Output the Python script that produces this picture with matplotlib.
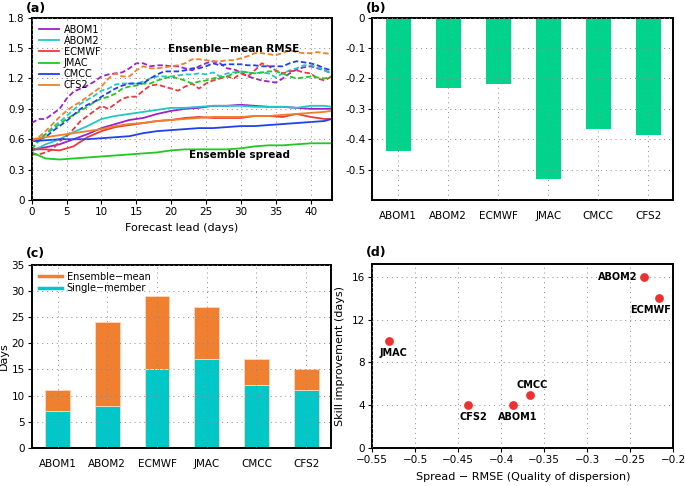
import numpy as np
import matplotlib
matplotlib.use("Agg")
import matplotlib.pyplot as plt

plt.rcParams['font.family'] = ['DejaVu Sans']
plt.rcParams['font.size'] = 7.5

models = ["ABOM1", "ABOM2", "ECMWF", "JMAC", "CMCC", "CFS2"]
colors = ["#a020c8", "#20c8c8", "#f03838", "#20c820", "#2040f0", "#f08028"]

# (a) ensemble-mean RMSE (dashed), daily lead 0..43
lead = list(range(44))
rmse_abom1 = [0.76, 0.80, 0.80, 0.85, 0.90, 1.00, 1.07, 1.10, 1.13, 1.17, 1.22, 1.24, 1.25, 1.26, 1.30, 1.35,
              1.35, 1.32, 1.33, 1.33, 1.32, 1.32, 1.30, 1.28, 1.32, 1.35, 1.37, 1.35, 1.30, 1.29, 1.26, 1.22,
              1.20, 1.18, 1.17, 1.16, 1.20, 1.25, 1.29, 1.31, 1.32, 1.30, 1.28, 1.25]
rmse_abom2 = [0.50, 0.58, 0.65, 0.72, 0.77, 0.83, 0.89, 0.95, 0.99, 1.03, 1.08, 1.10, 1.14, 1.15, 1.15, 1.15,
              1.17, 1.20, 1.22, 1.22, 1.22, 1.23, 1.24, 1.24, 1.25, 1.24, 1.26, 1.22, 1.25, 1.26, 1.27, 1.26,
              1.25, 1.26, 1.25, 1.21, 1.25, 1.28, 1.30, 1.33, 1.33, 1.31, 1.28, 1.25]
rmse_ecmwf = [0.45, 0.45, 0.47, 0.50, 0.58, 0.63, 0.70, 0.78, 0.83, 0.88, 0.93, 0.90, 0.95, 1.00, 1.02, 1.02,
              1.08, 1.13, 1.14, 1.12, 1.10, 1.08, 1.12, 1.15, 1.10, 1.15, 1.18, 1.20, 1.22, 1.20, 1.25, 1.22,
              1.28, 1.35, 1.32, 1.28, 1.25, 1.27, 1.28, 1.26, 1.25, 1.20, 1.18, 1.22]
rmse_jmac = [0.50, 0.60, 0.65, 0.70, 0.75, 0.80, 0.84, 0.88, 0.92, 0.97, 1.00, 1.02, 1.05, 1.10, 1.12, 1.13,
             1.15, 1.15, 1.18, 1.20, 1.22, 1.20, 1.18, 1.15, 1.17, 1.18, 1.20, 1.21, 1.22, 1.25, 1.27, 1.26,
             1.25, 1.26, 1.27, 1.27, 1.25, 1.22, 1.20, 1.21, 1.22, 1.21, 1.20, 1.22]
rmse_cmcc = [0.58, 0.60, 0.62, 0.68, 0.73, 0.78, 0.84, 0.90, 0.94, 0.97, 1.02, 1.06, 1.10, 1.13, 1.15, 1.15,
             1.15, 1.20, 1.24, 1.27, 1.27, 1.27, 1.28, 1.30, 1.30, 1.32, 1.35, 1.33, 1.34, 1.34, 1.34, 1.33,
             1.33, 1.32, 1.32, 1.32, 1.32, 1.35, 1.37, 1.36, 1.35, 1.33, 1.30, 1.28]
rmse_cfs2 = [0.58, 0.62, 0.68, 0.75, 0.82, 0.88, 0.93, 0.97, 1.02, 1.07, 1.12, 1.20, 1.25, 1.22, 1.22, 1.28,
             1.32, 1.30, 1.30, 1.31, 1.32, 1.33, 1.35, 1.39, 1.39, 1.38, 1.37, 1.37, 1.38, 1.38, 1.40, 1.42,
             1.45, 1.45, 1.44, 1.43, 1.45, 1.48, 1.46, 1.45, 1.45, 1.46, 1.45, 1.44]

# (a) ensemble spread (solid)
lead_s = [0, 2, 4, 6, 8, 10, 12, 14, 16, 18, 20, 22, 24, 26, 28, 30, 32, 34, 36, 38, 40, 42, 43]
spr_abom1 = [0.50, 0.52, 0.55, 0.60, 0.65, 0.71, 0.75, 0.79, 0.81, 0.85, 0.88, 0.90, 0.91, 0.93, 0.93, 0.94,
             0.93, 0.92, 0.92, 0.91, 0.90, 0.90, 0.90]
spr_abom2 = [0.48, 0.55, 0.60, 0.67, 0.73, 0.80, 0.83, 0.85, 0.87, 0.89, 0.91, 0.91, 0.92, 0.93, 0.93, 0.93,
             0.92, 0.92, 0.92, 0.91, 0.93, 0.93, 0.92]
spr_ecmwf = [0.50, 0.50, 0.49, 0.53, 0.62, 0.68, 0.72, 0.74, 0.76, 0.78, 0.79, 0.81, 0.82, 0.81, 0.81, 0.81,
             0.83, 0.83, 0.82, 0.85, 0.82, 0.80, 0.80]
spr_jmac = [0.47, 0.41, 0.40, 0.41, 0.42, 0.43, 0.44, 0.45, 0.46, 0.47, 0.49, 0.50, 0.50, 0.50, 0.50, 0.51,
            0.53, 0.54, 0.54, 0.55, 0.56, 0.56, 0.56]
spr_cmcc = [0.58, 0.59, 0.60, 0.60, 0.60, 0.61, 0.62, 0.63, 0.66, 0.68, 0.69, 0.70, 0.71, 0.71, 0.72, 0.73,
            0.73, 0.74, 0.75, 0.76, 0.77, 0.78, 0.80]
spr_cfs2 = [0.60, 0.62, 0.64, 0.66, 0.68, 0.70, 0.73, 0.75, 0.76, 0.78, 0.79, 0.80, 0.81, 0.82, 0.82, 0.82,
            0.83, 0.83, 0.84, 0.85, 0.86, 0.87, 0.88]

rmse_all = [rmse_abom1, rmse_abom2, rmse_ecmwf, rmse_jmac, rmse_cmcc, rmse_cfs2]
spr_all = [spr_abom1, spr_abom2, spr_ecmwf, spr_jmac, spr_cmcc, spr_cfs2]

# (b) spread - RMSE
disp = [-0.438, -0.233, -0.217, -0.531, -0.367, -0.385]

# (c) skill days
single = [7, 8, 15, 17, 12, 11]
total = [11, 24, 29, 27, 17, 15]

# (d) scatter
sc_x = [-0.386, -0.234, -0.217, -0.531, -0.367, -0.439]
sc_y = [4, 16, 14, 10, 5, 4]

W, H = 685, 486
fig = plt.figure(figsize=(W / 100, H / 100), dpi=100)


def box(l, t, r, b):
    return [l / W, 1 - b / H, (r - l) / W, (b - t) / H]


def style(ax):
    for s in ax.spines.values():
        s.set_linewidth(1.4)
    ax.tick_params(direction='out', length=3, width=0.8, labelsize=7.5, pad=2)
    ax.grid(True, color='#888888', linestyle=(0, (1, 4)), linewidth=0.7)
    ax.set_axisbelow(False)


# ---- (a)
ax = fig.add_axes(box(31.7, 17.7, 331.5, 200))
for i in range(6):
    ax.plot(lead, rmse_all[i], color=colors[i], lw=1.3, ls=(0, (3, 1.5)))
    ax.plot(lead_s, spr_all[i], color=colors[i], lw=1.3, label=models[i])
ax.set_xlim(0, 43)
ax.set_ylim(0, 1.8)
ax.set_xticks(range(0, 45, 5))
ax.set_yticks(np.arange(0, 1.81, 0.3))
ax.set_yticklabels(['0', '0.3', '0.6', '0.9', '1.2', '1.5', '1.8'])
ax.set_xlabel('Forecast lead (days)', fontsize=8, labelpad=4)
style(ax)
ax.legend(loc='upper left', frameon=False, fontsize=7, handlelength=2.1, labelspacing=0.12,
          borderaxespad=0.3, handletextpad=0.5)
ax.text(29.0, 1.49, 'Ensenble\u2212mean RMSE', fontsize=7.5, fontweight='bold', ha='center', va='center')
ax.text(29.8, 0.44, 'Ensemble spread', fontsize=7.5, fontweight='bold', ha='center', va='center')
ax.text(-0.02, 1.015, '(a)', transform=ax.transAxes, fontsize=9, fontweight='bold', va='bottom')

# ---- (b)
ax = fig.add_axes(box(372.3, 17.7, 673.3, 200))
x = np.arange(len(models))
ax.bar(x, disp, width=0.5, color='#00d48c')
ax.set_xlim(-0.52, 5.5)
ax.set_ylim(-0.6, 0)
ax.set_xticks(x)
ax.set_xticklabels(models)
ax.set_yticks([0, -0.1, -0.2, -0.3, -0.4, -0.5])
ax.set_yticklabels(['0', '-0.1', '-0.2', '-0.3', '-0.4', '-0.5'])
style(ax)
ax.tick_params(axis='x', length=0, pad=8)
ax.text(-0.02, 1.015, '(b)', transform=ax.transAxes, fontsize=9, fontweight='bold', va='bottom')

# ---- (c)
ax = fig.add_axes(box(31.7, 265, 331, 447.7))
ens = [t - s for t, s in zip(total, single)]
ax.bar(x, single, width=0.5, color='#00c8c8', edgecolor='#ffd8c0', linewidth=0.6)
ax.bar(x, ens, bottom=single, width=0.5, color='#f08030', edgecolor='#ffd8c0', linewidth=0.6)
ax.plot([], [], color='#f08030', lw=2.5, label='Ensemble\u2212mean')
ax.plot([], [], color='#00c8c8', lw=2.5, label='Single\u2212member')
ax.set_xlim(-0.52, 5.5)
ax.set_ylim(0, 35)
ax.set_xticks(x)
ax.set_xticklabels(models)
ax.set_yticks(range(0, 36, 5))
ax.set_ylabel('Days', fontsize=8, labelpad=2)
style(ax)
ax.tick_params(axis='x', length=0, pad=8)
ax.legend(loc='upper left', frameon=False, fontsize=7, handlelength=2.4, labelspacing=0.15,
          borderaxespad=0.3, handletextpad=0.5)
ax.text(-0.02, 1.03, '(c)', transform=ax.transAxes, fontsize=9, fontweight='bold', va='bottom')

# ---- (d)
ax = fig.add_axes(box(372.3, 264.3, 673.3, 448.3))
ax.scatter(sc_x, sc_y, s=28, color='#f03030', zorder=3)
offsets = {"ABOM1": (3.4, -8.5, 'center'), "ABOM2": (-5, 0, 'right'), "ECMWF": (-6, -8.5, 'center'),
           "JMAC": (3.6, -8.5, 'center'), "CMCC": (2, 7, 'center'), "CFS2": (4, -8.5, 'center')}
for m, xx, yy in zip(models, sc_x, sc_y):
    dx, dy, ha = offsets[m]
    ax.annotate(m, (xx, yy), xytext=(dx, dy), textcoords='offset points', ha=ha, va='center',
                fontsize=7, fontweight='bold')
ax.set_xlim(-0.55, -0.2)
ax.set_ylim(0, 17.15)
ax.set_xticks(np.arange(-0.55, -0.19, 0.05))
ax.set_xticklabels(['\u22120.55', '\u22120.5', '\u22120.45', '\u22120.4', '\u22120.35', '\u22120.3',
                    '\u22120.25', '\u22120.2'])
ax.set_yticks(range(0, 17, 4))
ax.set_xlabel('Spread \u2212 RMSE (Quality of dispersion)', fontsize=8, labelpad=5)
ax.set_ylabel('Skill improvement (days)', fontsize=8, labelpad=5)
style(ax)
ax.text(-0.02, 1.03, '(d)', transform=ax.transAxes, fontsize=9, fontweight='bold', va='bottom')

fig.savefig('out.png', dpi=100)
